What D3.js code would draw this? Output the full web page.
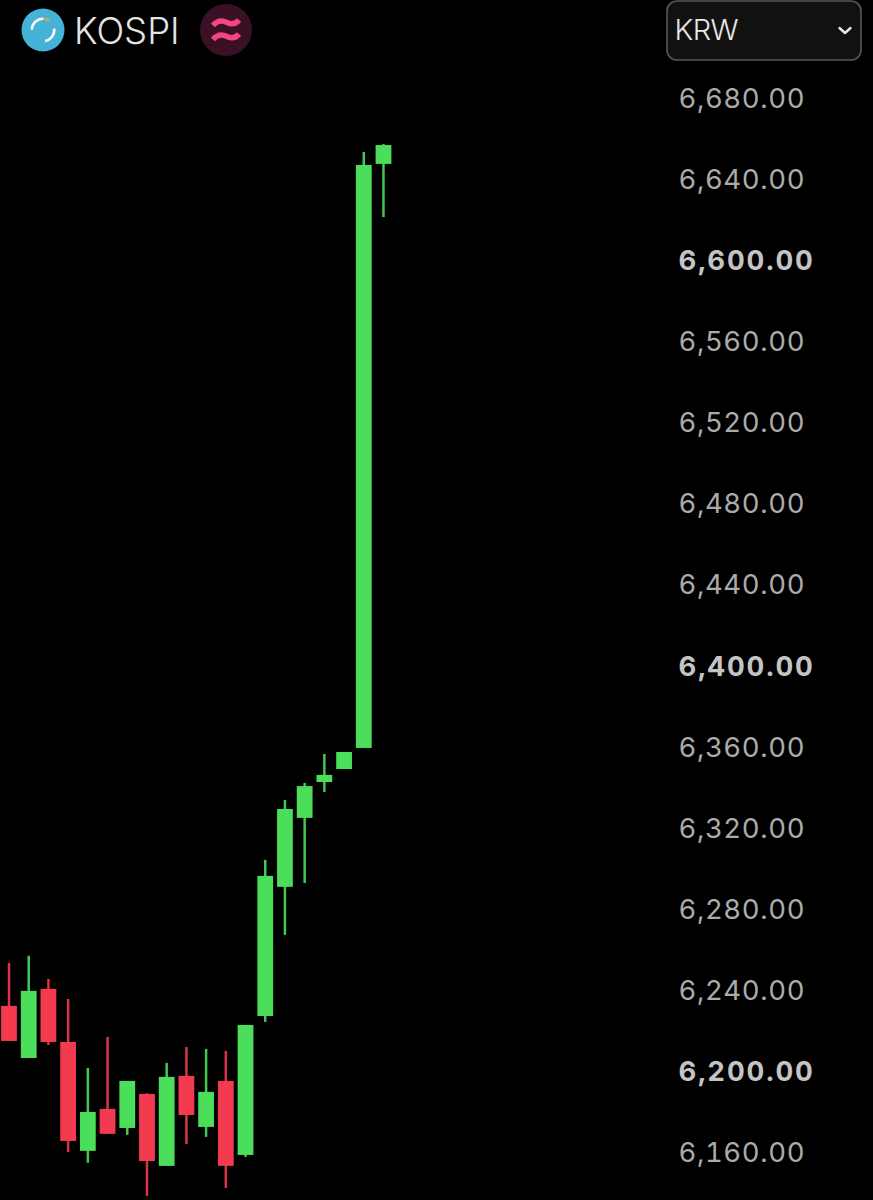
<!DOCTYPE html>
<html>
<head>
  <meta charset="utf-8">
  <title>KOSPI</title>
  <script src="https://d3js.org/d3.v7.min.js"></script>
  <style>
    html, body { margin: 0; padding: 0; background: #000; }
    svg { display: block; }
    text { font-family: Inter, "Liberation Sans", sans-serif; }
  </style>
</head>
<body>
  <script>
    var opens  = [6232.3, 6206.6, 6240.7, 6214.5, 6160.8, 6181.5, 6172.1, 6188.9, 6153.4, 6197.8, 6172.6, 6195.3, 6158.8, 6227.3, 6291.0, 6325.0, 6342.7, 6349.1, 6359.5, 6647.5];
    var closes = [6215.0, 6239.7, 6214.5, 6165.7, 6180.0, 6169.2, 6195.3, 6155.8, 6197.3, 6178.5, 6189.9, 6153.4, 6222.9, 6296.4, 6329.4, 6340.7, 6346.2, 6357.5, 6647.0, 6656.8];
    var highs  = [6253.5, 6257.0, 6245.6, 6235.7, 6201.7, 6217.0, 6195.3, 6189.2, 6204.2, 6212.0, 6211.1, 6210.1, 6222.9, 6304.3, 6333.8, 6342.2, 6356.5, 6357.5, 6653.4, 6657.3];
    var lows   = [6215.0, 6206.6, 6213.0, 6160.3, 6154.9, 6169.2, 6168.7, 6138.6, 6153.4, 6164.2, 6167.7, 6142.5, 6157.8, 6224.4, 6267.3, 6292.9, 6337.8, 6349.1, 6359.5, 6621.3];
    var priceTicks = [6680, 6640, 6600, 6560, 6520, 6480, 6440, 6400, 6360, 6320, 6280, 6240, 6200, 6160];
    var boldTicks = [6600, 6400, 6200];

    var width = 873;
    var height = 1200;

    var svg = d3.select('body').append('svg').attr('width', width).attr('height', height);
    svg.append('rect').attr('width', width).attr('height', height).attr('fill', '#000');

    var x = d3.scaleBand()
      .domain(d3.range(opens.length))
      .range([-0.85, 393.35])
      .paddingInner(0.2)
      .paddingOuter(0.1);

    var y = d3.scaleLinear()
      .domain([6680, 6160])
      .range([98, 1152.5]);

    var candles = svg.selectAll('g.candle')
      .data(d3.range(opens.length))
      .enter()
      .append('g')
      .attr('class', 'candle');

    function color(i) { return closes[i] >= opens[i] ? '#4ade5a' : '#f43a4e'; }

    // wicks
    candles.append('line')
      .attr('x1', function(i) { return x(i) + x.bandwidth() / 2; })
      .attr('x2', function(i) { return x(i) + x.bandwidth() / 2; })
      .attr('y1', function(i) { return y(highs[i]); })
      .attr('y2', function(i) { return y(lows[i]); })
      .attr('stroke', color)
      .attr('stroke-opacity', 0.9)
      .attr('stroke-width', 2.5);

    // bodies
    candles.append('rect')
      .attr('x', function(i) { return x(i); })
      .attr('width', x.bandwidth())
      .attr('y', function(i) { return y(Math.max(opens[i], closes[i])); })
      .attr('height', function(i) { return Math.abs(y(opens[i]) - y(closes[i])); })
      .attr('fill', color);

    // price axis
    var axis = d3.axisRight(y)
      .tickValues(priceTicks)
      .tickSize(0)
      .tickPadding(0)
      .tickFormat(d3.format(',.2f'));

    var axisG = svg.append('g')
      .attr('transform', 'translate(678.5,0.4)')
      .call(axis);
    axisG.select('.domain').remove();
    axisG.selectAll('text')
      .attr('font-size', 27.5)
      .attr('letter-spacing', function(d) { return boldTicks.indexOf(d) >= 0 ? 1.85 : 0.6; })
      .attr('fill', function(d) { return boldTicks.indexOf(d) >= 0 ? '#c4c4c4' : '#ababab'; })
      .attr('font-weight', function(d) { return boldTicks.indexOf(d) >= 0 ? 700 : 400; })
      .style('font-family', 'Inter, "Liberation Sans", sans-serif')
      .style('font-variant-numeric', 'tabular-nums');

    // header: index logo
    svg.append('circle').attr('cx', 43).attr('cy', 30).attr('r', 21.5).attr('fill', '#45b2d8');
    var arc = d3.arc().innerRadius(10).outerRadius(12.5);
    svg.append('path').attr('transform', 'translate(43,30)')
      .attr('d', arc({ startAngle: -1.55, endAngle: 0.05 })).attr('fill', '#f2f8fa');
    svg.append('path').attr('transform', 'translate(43,30)')
      .attr('d', arc({ startAngle: 0.05, endAngle: 0.65 })).attr('fill', '#d2a94a');
    svg.append('path').attr('transform', 'translate(43,30)')
      .attr('d', arc({ startAngle: 1.45, endAngle: 2.95 })).attr('fill', '#ffffff');

    svg.append('text')
      .attr('x', 74).attr('y', 43.5)
      .attr('font-size', 36.5).attr('font-weight', 300).attr('letter-spacing', 0)
      .attr('fill', '#e4e4e4')
      .text('KOSPI');

    // header: delayed-data badge
    svg.append('circle').attr('cx', 226).attr('cy', 30).attr('r', 26).attr('fill', '#3a1025');
    svg.selectAll('path.wave')
      .data([-7, 7])
      .enter()
      .append('path')
      .attr('class', 'wave')
      .attr('d', function(d) {
        return 'M-13,' + (d + 2.5) + ' C-8,' + (d - 3.5) + ' -3,' + (d - 2.5) + ' 1,' + (d - 0.5) +
          ' C5,' + (d + 1.5) + ' 9,' + (d + 2) + ' 13,' + (d - 3);
      })
      .attr('transform', 'translate(226,30)')
      .attr('fill', 'none')
      .attr('stroke', '#f5457f')
      .attr('stroke-width', 5.4)
      .attr('stroke-linecap', 'butt');

    // currency dropdown
    svg.append('rect')
      .attr('x', 667).attr('y', 1)
      .attr('width', 194).attr('height', 59)
      .attr('rx', 10)
      .attr('fill', '#111111')
      .attr('stroke', '#565656')
      .attr('stroke-width', 1.6);
    svg.append('text')
      .attr('x', 674.5).attr('y', 39.5)
      .attr('font-size', 29).attr('font-weight', 300).attr('letter-spacing', -0.6)
      .attr('fill', '#e8e8e8')
      .text('KRW');
    svg.append('path')
      .attr('d', 'M839.5,28 L845,33 L850.5,28')
      .attr('fill', 'none')
      .attr('stroke', '#e8e8e8')
      .attr('stroke-width', 2.4)
      .attr('stroke-linecap', 'round')
      .attr('stroke-linejoin', 'round');
  </script>
</body>
</html>
